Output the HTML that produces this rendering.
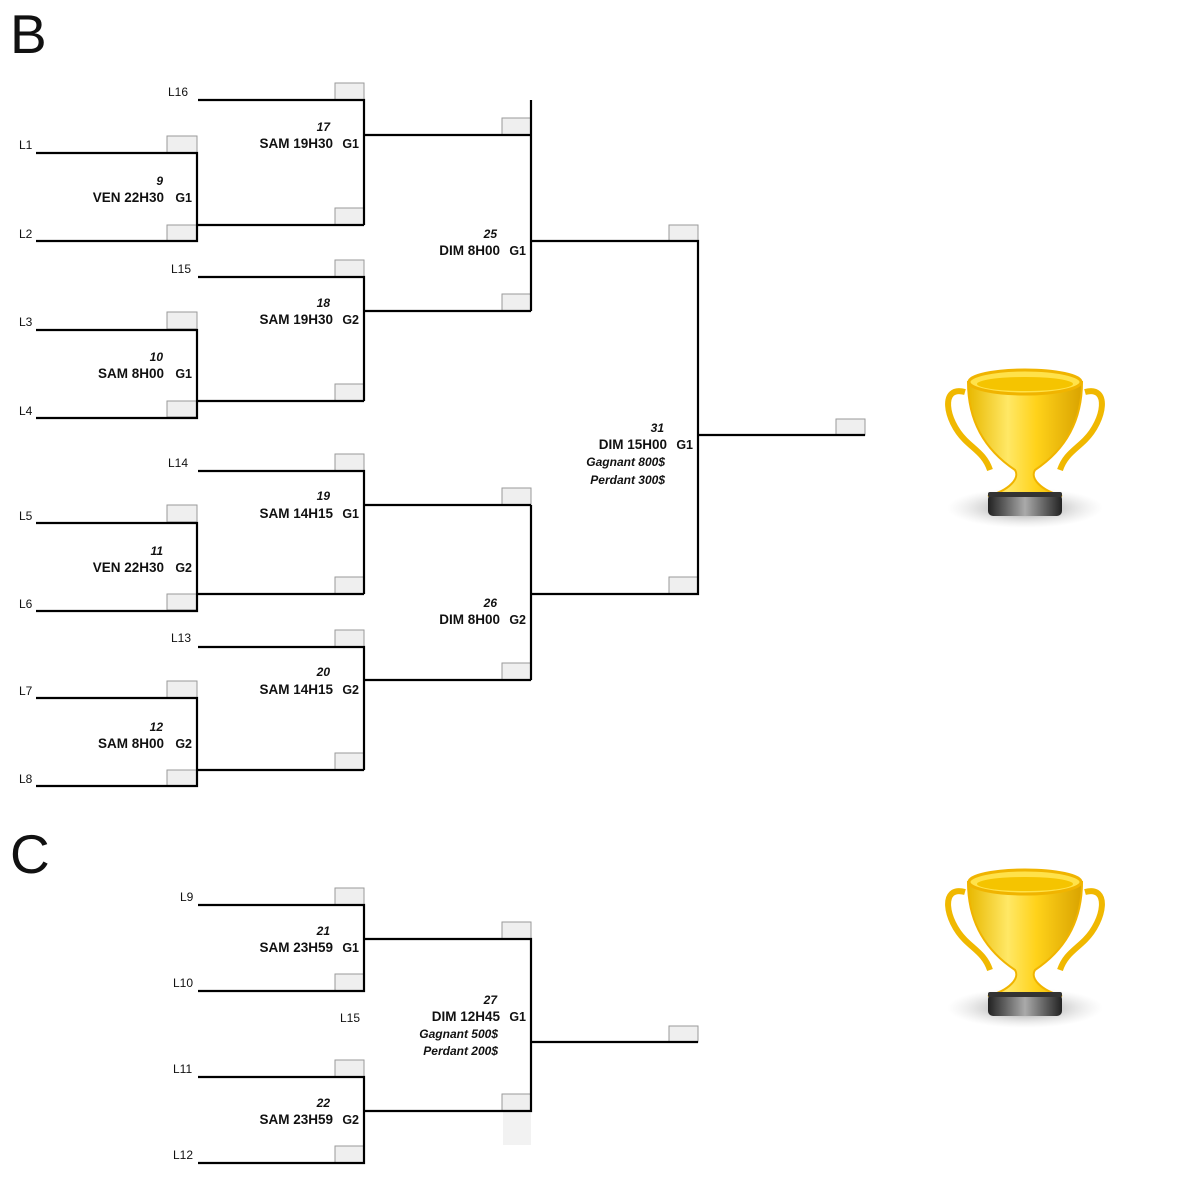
<!DOCTYPE html>
<html><head><meta charset="utf-8"><style>
html,body{margin:0;padding:0;background:#fff;}
svg{display:block;}
text{font-family:"Liberation Sans",Arial,sans-serif;fill:#111;}
.l{font-size:12px;}
.n{font-size:12px;font-weight:bold;font-style:italic;text-anchor:end;}
.s{font-size:13.5px;font-weight:bold;text-anchor:end;}
.g{font-size:12.5px;font-weight:bold;text-anchor:end;}
.p{font-size:12px;font-weight:bold;font-style:italic;text-anchor:end;}
.big{font-size:55px;}
</style></head><body>
<svg width="1200" height="1179" viewBox="0 0 1200 1179" xmlns="http://www.w3.org/2000/svg">
<defs>
<linearGradient id="gold" x1="0" x2="1" y1="0" y2="0">
<stop offset="0" stop-color="#e8b800"/><stop offset="0.35" stop-color="#ffe866"/><stop offset="0.6" stop-color="#ffd21a"/><stop offset="1" stop-color="#d9a300"/></linearGradient>
<linearGradient id="base" x1="0" x2="1"><stop offset="0" stop-color="#222"/><stop offset="0.5" stop-color="#aaa"/><stop offset="1" stop-color="#222"/></linearGradient>
<radialGradient id="shadow"><stop offset="0" stop-color="#777" stop-opacity="0.9"/><stop offset="1" stop-color="#ccc" stop-opacity="0"/></radialGradient>
<g id="trophy">
<ellipse cx="1025" cy="508" rx="78" ry="20" fill="url(#shadow)"/>
<path d="M965 392 C940 385 945 420 965 440 C975 450 985 455 990 470" fill="none" stroke="#f0b800" stroke-width="6"/>
<path d="M1085 392 C1110 385 1105 420 1085 440 C1075 450 1065 455 1060 470" fill="none" stroke="#f0b800" stroke-width="6"/>
<path d="M968 382 L1082 382 C1082 425 1062 452 1035 470 C1030 478 1040 490 1062 496 L988 496 C1010 490 1020 478 1015 470 C988 452 968 425 968 382 Z" fill="url(#gold)" stroke="#f0b400" stroke-width="2"/>
<ellipse cx="1025" cy="382" rx="56" ry="12" fill="#ffe24a" stroke="#f0b400" stroke-width="3"/>
<ellipse cx="1025" cy="384" rx="48" ry="7" fill="#f5c400"/>
<rect x="988" y="494" width="74" height="22" rx="5" fill="url(#base)"/>
<rect x="988" y="492" width="74" height="5" rx="2" fill="#333"/>
</g>
</defs>

<text x="10" y="53" class="big">B</text>
<text x="10" y="873" class="big">C</text>

<g fill="#efefef" stroke="#9a9a9a" stroke-width="1">
<rect x="167" y="136" width="30" height="17"/><rect x="167" y="225" width="30" height="16"/>
<rect x="167" y="312" width="30" height="17"/><rect x="167" y="401" width="30" height="16"/>
<rect x="167" y="505" width="30" height="17"/><rect x="167" y="594" width="30" height="16"/>
<rect x="167" y="681" width="30" height="17"/><rect x="167" y="770" width="30" height="16"/>
<rect x="335" y="83" width="29" height="17"/><rect x="335" y="208" width="29" height="17"/>
<rect x="335" y="260" width="29" height="17"/><rect x="335" y="384" width="29" height="17"/>
<rect x="335" y="454" width="29" height="17"/><rect x="335" y="577" width="29" height="17"/>
<rect x="335" y="630" width="29" height="17"/><rect x="335" y="753" width="29" height="17"/>
<rect x="502" y="118" width="29" height="17"/><rect x="502" y="294" width="29" height="17"/>
<rect x="502" y="488" width="29" height="17"/><rect x="502" y="663" width="29" height="17"/>
<rect x="669" y="225" width="29" height="16"/><rect x="669" y="577" width="29" height="17"/>
<rect x="836" y="419" width="29" height="16"/>
<rect x="335" y="888" width="29" height="17"/><rect x="335" y="974" width="29" height="17"/>
<rect x="335" y="1060" width="29" height="17"/><rect x="335" y="1146" width="29" height="17"/>
<rect x="502" y="922" width="29" height="17"/><rect x="502" y="1094" width="29" height="17"/>
<rect x="669" y="1026" width="29" height="16"/>
</g>
<rect x="503" y="1112" width="28" height="33" fill="#f2f2f2"/>

<g stroke="#000" stroke-width="2.2" fill="none">
<path d="M36 153H197V241H36M197 225H364M36 330H197V418H36M197 401H364"/>
<path d="M36 523H197V611H36M197 594H364M36 698H197V786H36M197 770H364"/>
<path d="M198 100H364V225M198 277H364V401M364 135H531M364 311H531"/>
<path d="M198 471H364V594M198 647H364V770M364 505H531M364 680H531"/>
<path d="M531 100V311M531 241H698V594H531M531 505V680M698 435H865"/>
<path d="M198 905H364V991H198M198 1077H364V1163H198M364 939H531V1111H364M531 1042H698"/>
</g>

<g class="l">
<text x="19" y="149">L1</text><text x="19" y="238">L2</text>
<text x="19" y="326">L3</text><text x="19" y="415">L4</text>
<text x="19" y="520">L5</text><text x="19" y="608">L6</text>
<text x="19" y="695">L7</text><text x="19" y="783">L8</text>
<text x="168" y="96">L16</text><text x="171" y="273">L15</text>
<text x="168" y="467">L14</text><text x="171" y="642">L13</text>
<text x="180" y="901">L9</text><text x="173" y="987">L10</text>
<text x="340" y="1022">L15</text>
<text x="173" y="1073">L11</text><text x="173" y="1159">L12</text>
</g>

<text x="163" y="185" class="n">9</text><text x="164" y="202" class="s">VEN 22H30</text><text x="192" y="202" class="g">G1</text>
<text x="163" y="361" class="n">10</text><text x="164" y="378" class="s">SAM 8H00</text><text x="192" y="378" class="g">G1</text>
<text x="163" y="555" class="n">11</text><text x="164" y="572" class="s">VEN 22H30</text><text x="192" y="572" class="g">G2</text>
<text x="163" y="731" class="n">12</text><text x="164" y="748" class="s">SAM 8H00</text><text x="192" y="748" class="g">G2</text>
<text x="330" y="131" class="n">17</text><text x="333" y="148" class="s">SAM 19H30</text><text x="359" y="148" class="g">G1</text>
<text x="330" y="307" class="n">18</text><text x="333" y="324" class="s">SAM 19H30</text><text x="359" y="324" class="g">G2</text>
<text x="330" y="500" class="n">19</text><text x="333" y="518" class="s">SAM 14H15</text><text x="359" y="518" class="g">G1</text>
<text x="330" y="676" class="n">20</text><text x="333" y="694" class="s">SAM 14H15</text><text x="359" y="694" class="g">G2</text>
<text x="497" y="238" class="n">25</text><text x="500" y="255" class="s">DIM 8H00</text><text x="526" y="255" class="g">G1</text>
<text x="497" y="607" class="n">26</text><text x="500" y="624" class="s">DIM 8H00</text><text x="526" y="624" class="g">G2</text>
<text x="664" y="432" class="n">31</text><text x="667" y="449" class="s">DIM 15H00</text><text x="693" y="449" class="g">G1</text>
<text x="665" y="466" class="p">Gagnant 800$</text><text x="665" y="484" class="p">Perdant 300$</text>
<text x="330" y="935" class="n">21</text><text x="333" y="952" class="s">SAM 23H59</text><text x="359" y="952" class="g">G1</text>
<text x="330" y="1107" class="n">22</text><text x="333" y="1124" class="s">SAM 23H59</text><text x="359" y="1124" class="g">G2</text>
<text x="497" y="1004" class="n">27</text><text x="500" y="1021" class="s">DIM 12H45</text><text x="526" y="1021" class="g">G1</text>
<text x="498" y="1038" class="p">Gagnant 500$</text><text x="498" y="1055" class="p">Perdant 200$</text>

<use href="#trophy"/>
<use href="#trophy" transform="translate(0,500)"/>
</svg>
</body></html>
